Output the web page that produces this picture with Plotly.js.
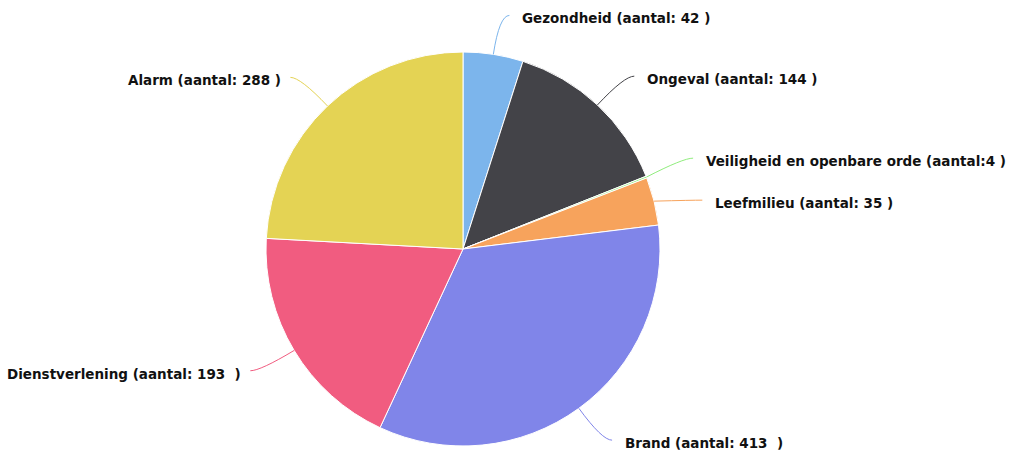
<!DOCTYPE html>
<html>
<head>
<meta charset="utf-8">
<script src="https://cdn.plot.ly/plotly-3.0.1.min.js"></script>
<style>html,body{margin:0;padding:0;background:#fff;}#chart{width:1021px;height:456px;}</style>
</head>
<body>
<div id="chart"></div>
<script>
// ---- data ----
const categories = ["Gezondheid", "Ongeval", "Veiligheid en openbare orde", "Leefmilieu", "Brand", "Dienstverlening", "Alarm"];
const aantal = [42, 144, 4, 35, 413, 193, 288];
// slice sizes (percent of the circle)
const aandeel = [4.92, 14.06, 0.15, 3.93, 33.86, 18.94, 24.14];
const labelTexts = [
  "Gezondheid (aantal: 42 )",
  "Ongeval (aantal: 144 )",
  "Veiligheid en openbare orde (aantal:4 )",
  "Leefmilieu (aantal: 35 )",
  "Brand (aantal: 413\u00a0 )",
  "Dienstverlening (aantal: 193\u00a0 )",
  "Alarm (aantal: 288 )"
];
const colors = ["#7cb5ec", "#434348", "#90ed7d", "#f7a35c", "#8085e9", "#f15c80", "#e4d354"];

// ---- layout constants ----
const W = 1021, H = 456;
const cx = 463, cy = 249, R = 197;
const px2x = p => p / W;
const py2y = p => 1 - p / H;

const trace = {
  type: "pie",
  values: aandeel,
  labels: categories,
  customdata: aantal,
  sort: false,
  direction: "clockwise",
  rotation: 0,
  textinfo: "none",
  hovertemplate: "%{label}: %{customdata}<extra></extra>",
  marker: { colors: colors, line: { color: "#ffffff", width: 1 } },
  domain: { x: [px2x(cx - R), px2x(cx + R)], y: [py2y(cy + R), py2y(cy - R)] },
  showlegend: false
};

// label positions derived from slice angles
const total = aandeel.reduce((a, b) => a + b, 0);
let cum = 0;
const items = aandeel.map((v, i) => {
  const a0 = cum / total * 2 * Math.PI;
  cum += v;
  const a1 = cum / total * 2 * Math.PI;
  const mid = (a0 + a1) / 2;
  const side = mid < Math.PI ? 1 : -1;
  const sx = cx + R * Math.sin(mid), sy = cy - R * Math.cos(mid);
  const ra = R * 1.2;
  const ax = cx + ra * Math.sin(mid), ay = cy - ra * Math.cos(mid);
  return { i, mid, side, sx, sy, ax, ay, ly: ay + 3 };
});
// push apart labels that are too close on the same side
[1, -1].forEach(s => {
  const list = items.filter(it => it.side === s).sort((a, b) => a.ly - b.ly);
  for (let k = 1; k < list.length; k++) {
    const gap = list[k].ly - list[k - 1].ly;
    if (gap < 42) {
      const d = (42 - gap) / 2;
      list[k - 1].ly -= d - 2; list[k].ly += d + 2;
    }
  }
});

const annotations = [], shapes = [];
items.forEach(it => {
  const dy = it.ly - 3 - it.ay;
  const ex = it.ax + it.side * 10, ey = it.ay + dy;
  const qx = it.ax, qy = it.ay + dy;
  shapes.push({
    type: "path", xref: "paper", yref: "paper",
    path: `M ${px2x(it.sx)} ${py2y(it.sy)} Q ${px2x(qx)} ${py2y(qy)} ${px2x(ex)} ${py2y(ey)}`,
    line: { color: colors[it.i], width: 1 }, fillcolor: "rgba(0,0,0,0)"
  });
  annotations.push({
    xref: "paper", yref: "paper",
    x: px2x(it.ax + it.side * (it.side > 0 ? 21 : 17)), y: py2y(it.ly),
    xanchor: it.side > 0 ? "left" : "right", yanchor: "middle",
    text: "<b>" + labelTexts[it.i] + "</b>",
    showarrow: false,
    font: { family: "DejaVu Sans, sans-serif", size: 13.5, color: "#111111" }
  });
});

const layout = {
  width: W, height: H,
  margin: { l: 0, r: 0, t: 0, b: 0 },
  paper_bgcolor: "#ffffff",
  annotations: annotations,
  shapes: shapes
};

Plotly.newPlot("chart", [trace], layout, { displayModeBar: false, staticPlot: true });
</script>
</body>
</html>
